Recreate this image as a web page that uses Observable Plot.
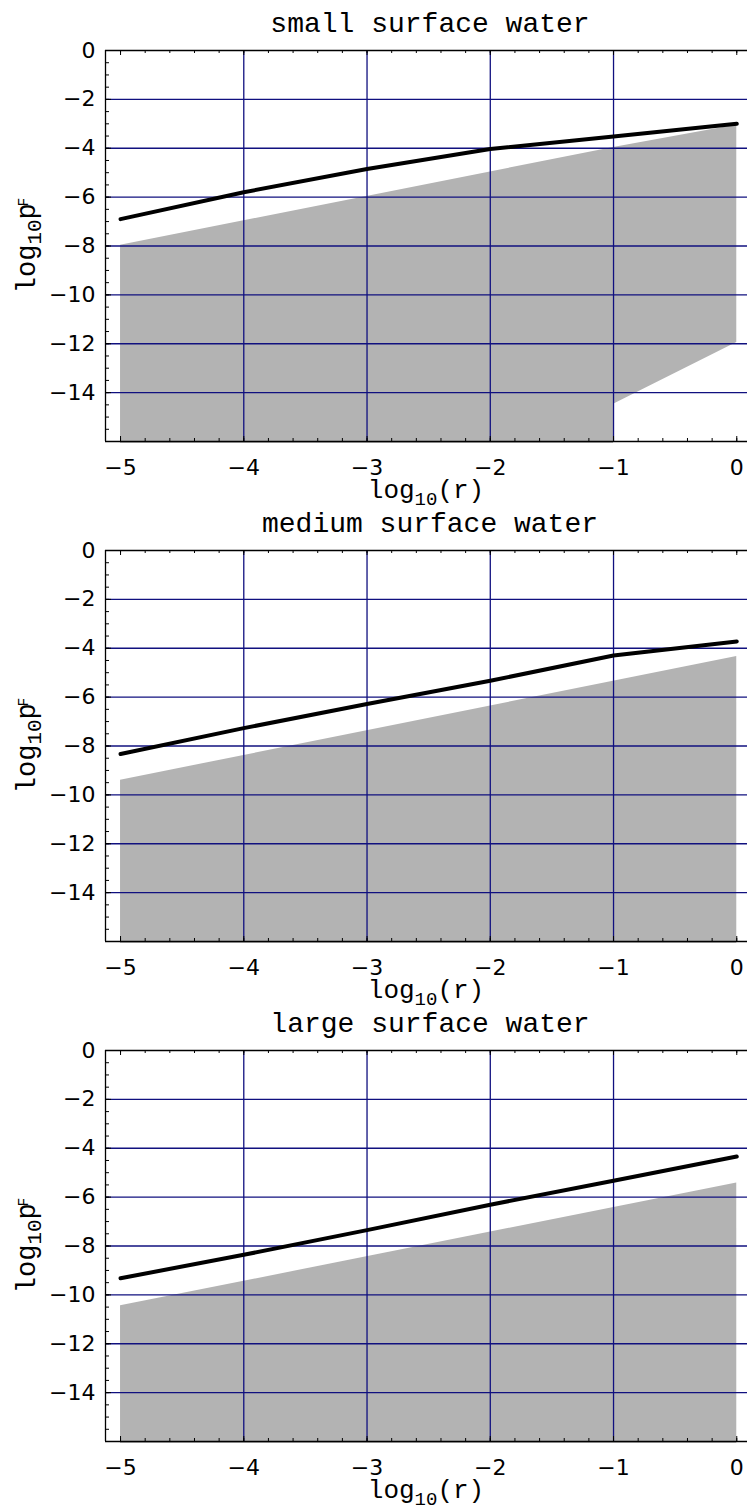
<!DOCTYPE html>
<html><head><meta charset="utf-8">
<script src="https://cdn.jsdelivr.net/npm/d3@7"></script>
<script src="https://cdn.jsdelivr.net/npm/@observablehq/plot@0.6"></script>
<style>
html,body{margin:0;padding:0;background:#fff;}
body{padding-bottom:8px;}
svg{display:block;overflow:visible;}
</style></head><body><div id="charts"></div>
<script>
// ---- data ----
const titles = ["small surface water", "medium surface water", "large surface water"];
const xs = [-5, -4, -3, -2, -1, 0];
const smallLine  = [-6.90, -5.80, -4.85, -4.03, -3.52, -3.00];
const mediumLine = [-8.33, -7.27, -6.28, -5.33, -4.30, -3.72];
const largeLine  = [-9.32, -8.36, -7.35, -6.31, -5.33, -4.34];

const smallBandX    = [-5, -1, -1, 0];
const smallBandLow  = [-16.08, -16.08, -14.48, -11.95];
const smallBandHigh = [-7.97, -3.97, -3.97, -3.05];
const mediumBandX    = [-5, 0];
const mediumBandLow  = [-16.08, -16.08];
const mediumBandHigh = [-9.40, -4.34];
const largeBandX    = [-5, 0];
const largeBandLow  = [-16.08, -16.08];
const largeBandHigh = [-10.45, -5.42];

const xTickValues = [-5, -4, -3, -2, -1, 0];
const yTickValues = [0, -2, -4, -6, -8, -10, -12, -14];
const xGridValues = [-4, -3, -2, -1];
const yGridValues = [-2, -4, -6, -8, -10, -12, -14];
const xDomain = [-5.122, 0.087];
const yDomain = [-16, 0];
const xMinorTicks = d3.range(-25, 1).map(i => i / 5);
const yMinorTicks = d3.range(-32, 1).map(i => i / 2);

// ---- layout ----
const W = 747, H = 500;
const mL = 105, mR = 0, mT = 50, mB = 59;
const innerW = W - mL - mR, innerH = H - mT - mB;
const gridColor = "#10107f";
const fmt = d3.format("d");

const panels = [
  {title: titles[0], line: smallLine, bx: smallBandX, lo: smallBandLow, hi: smallBandHigh},
  {title: titles[1], line: mediumLine, bx: mediumBandX, lo: mediumBandLow, hi: mediumBandHigh},
  {title: titles[2], line: largeLine, bx: largeBandX, lo: largeBandLow, hi: largeBandHigh}
];

const container = document.getElementById("charts");

for (const p of panels) {
  const lineData = xs.map((x, i) => ({x, y: p.line[i]}));
  const band = p.bx.map((x, i) => ({x, lo: p.lo[i], hi: p.hi[i]}));
  const chart = Plot.plot({
    width: W, height: H,
    marginLeft: mL, marginRight: mR, marginTop: mT, marginBottom: mB,
    style: {fontFamily: "DejaVu Sans", fontSize: "22px", color: "#000", background: "transparent", overflow: "visible"},
    x: {domain: xDomain, axis: null},
    y: {domain: yDomain, axis: null},
    marks: [
      Plot.areaY(band, {x: "x", y1: "lo", y2: "hi", fill: "#b3b3b3", curve: "linear"}),
      Plot.ruleX(xGridValues, {stroke: gridColor, strokeWidth: 1.3}),
      Plot.ruleY(yGridValues, {stroke: gridColor, strokeWidth: 1.3}),
      Plot.line(lineData, {x: "x", y: "y", stroke: "#000", strokeWidth: 4, strokeLinecap: "round", strokeLinejoin: "round"}),
      // frame lines
      Plot.ruleY([yDomain[0]], {stroke: "#000", strokeWidth: 1.3}),
      Plot.ruleY([yDomain[1]], {stroke: "#000", strokeWidth: 1.3}),
      Plot.ruleX([xDomain[0]], {stroke: "#000", strokeWidth: 1.3}),
      // inward ticks bottom
      Plot.tickX(xMinorTicks, {x: d => d, insetTop: innerH - 3, stroke: "#000"}),
      Plot.tickX(xTickValues, {x: d => d, insetTop: innerH - 5, stroke: "#000"}),
      // inward ticks top
      Plot.tickX(xMinorTicks, {x: d => d, insetBottom: innerH - 3, stroke: "#000"}),
      Plot.tickX(xTickValues, {x: d => d, insetBottom: innerH - 5, stroke: "#000"}),
      // inward ticks left
      Plot.tickY(yMinorTicks, {y: d => d, insetRight: innerW - 4, stroke: "#000"}),
      Plot.tickY(yTickValues, {y: d => d, insetRight: innerW - 6, stroke: "#000"}),
      // tick labels
      Plot.axisX({anchor: "bottom", ticks: xTickValues, tickSize: 0, tickPadding: 18, tickFormat: fmt, label: null}),
      Plot.axisY({anchor: "left", ticks: yTickValues, tickSize: 0, tickPadding: 10, tickFormat: fmt, label: null})
    ]
  });

  const svg = d3.select(chart);
  const mono = "Liberation Mono, Courier New, monospace";
  // title
  svg.append("text")
    .attr("x", 430).attr("y", 32)
    .attr("text-anchor", "middle")
    .attr("font-family", mono).attr("font-size", 28)
    .attr("fill", "#000")
    .text(p.title);
  // x label
  const xl = svg.append("text")
    .attr("x", mL + innerW / 2).attr("y", 498)
    .attr("text-anchor", "middle")
    .attr("font-family", mono).attr("font-size", 26)
    .attr("fill", "#000");
  xl.append("tspan").text("log");
  xl.append("tspan").attr("font-size", 19).attr("dy", 7).text("10");
  xl.append("tspan").attr("dy", -7).text("(r)");
  // y label
  const yl = svg.append("text")
    .attr("transform", `translate(35,${mT + innerH / 2}) rotate(-90)`)
    .attr("text-anchor", "middle")
    .attr("font-family", mono).attr("font-size", 27)
    .attr("fill", "#000");
  yl.append("tspan").text("log");
  yl.append("tspan").attr("font-size", 21).attr("dy", 6).text("10");
  yl.append("tspan").attr("dy", -6).text("p");
  yl.append("tspan").attr("font-size", 14).attr("dx", -3).attr("dy", -7).text("F");

  container.appendChild(chart);
}
</script>
</body></html>
